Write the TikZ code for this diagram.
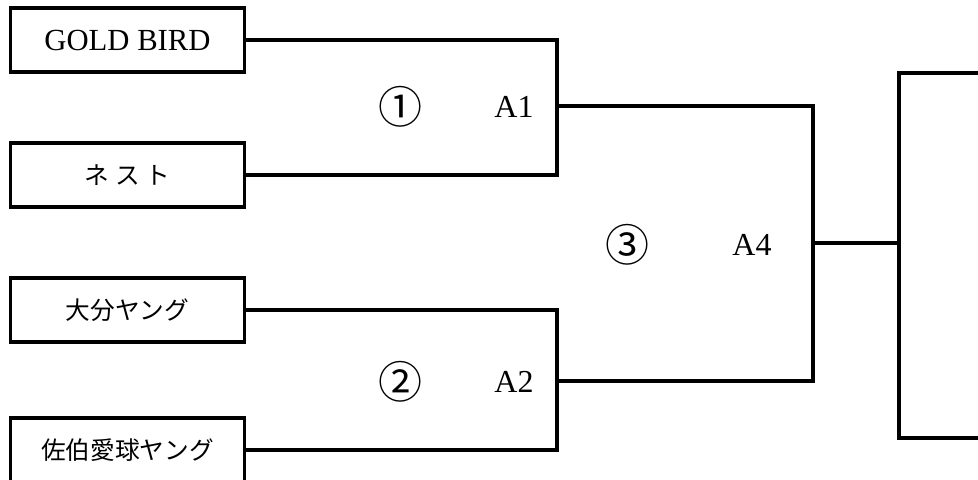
\documentclass[tikz,border=0pt]{standalone}
\usepackage{fontspec}
\setmainfont{Liberation Serif}
\newfontfamily\jp{Noto Sans CJK JP}
\tikzset{
  team/.style={draw,minimum width=175.5pt,minimum height=48pt,inner sep=0pt,
    font=\fontsize{23}{27}\selectfont},
  jpteam/.style={team,font=\jp\fontsize{18.5}{22}\selectfont},
  gameno/.style={inner sep=0pt,font=\jp\fontsize{33}{37}\selectfont},
  winner/.style={inner sep=0pt,font=\fontsize{24}{28}\selectfont}
}
\begin{document}
\begin{tikzpicture}[x=0.75pt,y=-0.75pt,line width=2.4pt]
  \clip (0,0) rectangle (978,479);
  % teams
  \node[team] (gold) at (127.5,40) {GOLD BIRD};
  \node[jpteam] (nest) at (127.5,175) {ネ ス ト};
  \node[jpteam] (oita) at (127.5,310) {大分ヤング};
  \node[jpteam] (saiki) at (127.5,450) {佐伯愛球ヤング};
  \node[draw,minimum width=150pt,minimum height=273.75pt] (final) at (999,255.5) {};
  % joints
  \coordinate (j1) at (557,106);
  \coordinate (j2) at (557,381);
  \coordinate (j4) at (813,243);
  \draw (gold.east) -| (j1) |- (nest.east);
  \draw (oita.east) -| (j2) |- (saiki.east);
  \draw (j1) -| (j4) |- (j2);
  \draw (j4) -- (j4 -| final.west);
  % labels
  \node[gameno] (g1) at (400,107) {①};
  \node[winner] (a1) at (514,107) {A1};
  \node[gameno] (g2) at (400,382) {②};
  \node[winner] (a2) at (514,382) {A2};
  \node[gameno] (g3) at (627,245) {③};
  \node[winner] (a4) at (752,245) {A4};
\end{tikzpicture}
\end{document}
